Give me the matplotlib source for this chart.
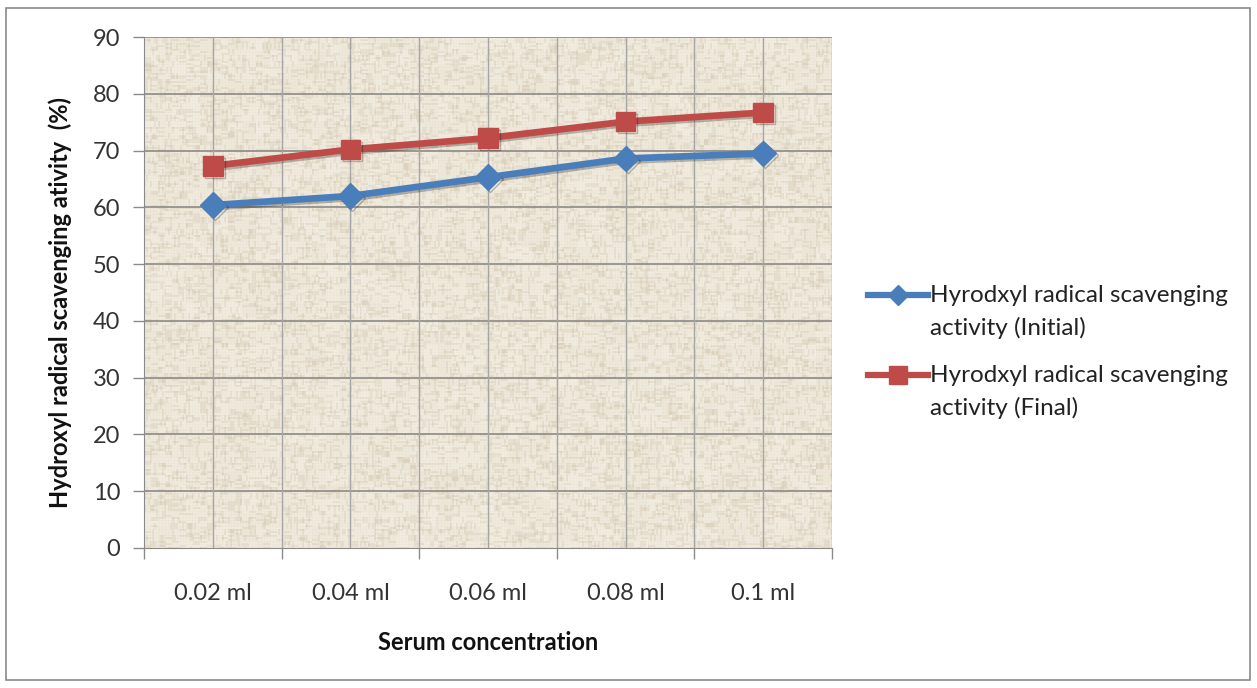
import numpy as np
import matplotlib.pyplot as plt
from matplotlib.patches import Rectangle
from matplotlib.lines import Line2D
from matplotlib import patheffects as pe

plt.rcParams['font.family'] = ['Lato', 'DejaVu Sans']

# serum concentration levels and scavenging activity (%)
concentrations = ['0.02 ml', '0.04 ml', '0.06 ml', '0.08 ml', '0.1 ml']
initial_activity = [60.4, 62.0, 65.3, 68.6, 69.5]
final_activity = [67.3, 70.2, 72.2, 75.1, 76.7]
y_ticks = [0, 10, 20, 30, 40, 50, 60, 70, 80, 90]

legend_lines = [
    ('Hyrodxyl radical scavenging', 'activity (Initial)'),
    ('Hyrodxyl radical scavenging', 'activity (Final)'),
]

W, H = 1257, 688


def hash2(a, b):
    # cheap deterministic hash, values in [0, 1)
    v = np.sin(a * 12.9898 + b * 78.233) * 43758.5453
    return v - np.floor(v)


def burlap_texture(h, w):
    """Woven-cloth look for the plot background."""
    i = np.arange(h)[:, None].astype(float)
    j = np.arange(w)[None, :].astype(float)
    # short horizontal and vertical thread segments
    horiz = hash2(np.floor(i / 2), np.floor(j / 7)) > 0.75
    vert = hash2(np.floor(i / 6) + 311, np.floor(j / 2)) > 0.78
    blotch = hash2(np.floor(i / 14), np.floor(j / 14) + 97)
    weave = 0.4 * horiz + 0.4 * vert + 0.2 * blotch
    weave += 0.1 * (np.floor(i) % 3 == 0) + 0.1 * (np.floor(j) % 3 == 0)
    weave = np.clip(weave, 0, 1)
    light = np.array([242, 237, 225]) / 255.0
    dark = np.array([206, 192, 166]) / 255.0
    k = weave[..., None] * 0.6
    return np.clip(light * (1 - k) + dark * k, 0, 1)


fig = plt.figure(figsize=(W / 100, H / 100), dpi=100)
fig.patch.set_facecolor('white')

# outer chart border
fig.patches.append(Rectangle((6 / W, 8 / H), 1244 / W, 672 / H,
                             transform=fig.transFigure, fill=False,
                             edgecolor='#8a8a8a', linewidth=1.2))

ax = fig.add_axes([144 / W, 1 - 548 / H, 688 / W, 511 / H])
x = np.arange(len(concentrations))
n = len(concentrations)

ax.set_xlim(-0.5, n - 0.5)
ax.set_ylim(0, 90)

ax.imshow(burlap_texture(511, 688), extent=(-0.5, n - 0.5, 0, 90),
          aspect='auto', zorder=0, interpolation='bilinear')

# gridlines
for yv in y_ticks[1:]:
    ax.axhline(yv, color='#8c8a86', linewidth=1.2, zorder=1)
for xv in np.arange(-0.5, n, 0.5)[1:]:
    ax.axvline(xv, color='#a6a5a6', linewidth=1.0, zorder=1)

shadow = [pe.SimpleLineShadow(offset=(1.5, -1.5), alpha=0.25), pe.Normal()]
styles = [
    dict(color='#4a7ebb', marker='D', markersize=13),
    dict(color='#be4b48', marker='s', markersize=14),
]
for values, st in zip([initial_activity, final_activity], styles):
    ax.plot(x, values, linewidth=4.8, zorder=3, path_effects=shadow, **st)

ax.set_xticks(np.arange(-0.5, n, 1.0))
ax.set_xticklabels([])
ax.set_xticks(x, minor=True)
ax.set_xticklabels(concentrations, minor=True)
ax.tick_params(axis='x', which='major', length=8, width=1, color='#8a8a8a', direction='out')
ax.tick_params(axis='x', which='minor', length=0, labelsize=17, pad=25, colors='#333333')
ax.set_yticks(y_ticks)
ax.tick_params(axis='y', length=8, width=1, color='#8a8a8a', labelsize=17,
               pad=9, labelcolor='#333333')

for side in ['top', 'right']:
    ax.spines[side].set_visible(False)
ax.spines['left'].set_color('#8a8a8a')
ax.spines['bottom'].set_color('#8a8a8a')

fig.text(60 / W, 1 - 302 / H, 'Hydroxyl radical scavenging ativity  (%)', fontsize=17,
         fontweight='bold', rotation=90, ha='center', va='center', color='#111111')
fig.text(488 / W, 1 - 643 / H, 'Serum concentration', fontsize=17, fontweight='bold',
         ha='center', va='center', color='#111111')

# legend drawn by hand so the handle sits on the first text line
for k, ((line1, line2), st) in enumerate(zip(legend_lines, styles)):
    y0 = 295 + k * 80
    fig.add_artist(Line2D([868 / W, 928 / W], [1 - y0 / H, 1 - y0 / H],
                          transform=fig.transFigure, linewidth=4.5,
                          color=st['color']))
    fig.add_artist(Line2D([898 / W], [1 - y0 / H], transform=fig.transFigure,
                          color=st['color'], marker=st['marker'], linestyle='none',
                          markersize=st['markersize'] * (0.75 if k == 0 else 0.95)))
    fig.text(930 / W, 1 - y0 / H, line1, fontsize=17.5, va='center', ha='left',
             color='#222222')
    fig.text(930 / W, 1 - (y0 + 33) / H, line2, fontsize=17.5, va='center', ha='left',
             color='#222222')

fig.savefig('out.png', dpi=100)
